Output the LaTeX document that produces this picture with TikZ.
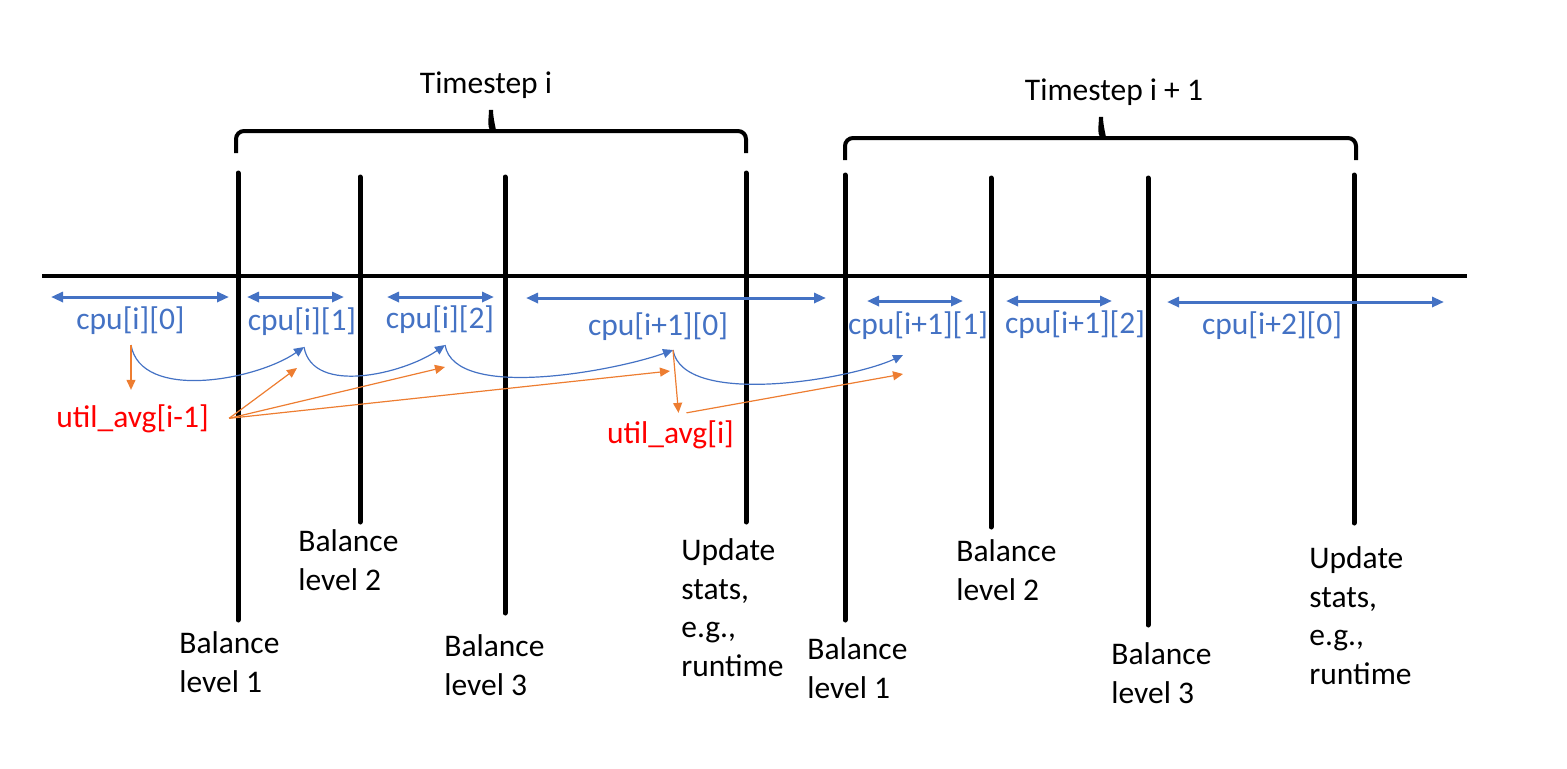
\documentclass[tikz,border=0pt]{standalone}
\usepackage{fontspec}
\setmainfont{Carlito}
\usetikzlibrary{arrows.meta}
\definecolor{cpublue}{RGB}{68,114,196}
\definecolor{avgorange}{RGB}{237,125,49}
\definecolor{avgred}{RGB}{255,0,0}

\tikzset{
  every node/.style={font=\fontsize{15.75}{19.2}\selectfont},
  cpulabel/.style={text=cpublue, inner sep=0pt, anchor=base},
  avglabel/.style={text=avgred, inner xsep=10pt, anchor=base},
  eventlabel/.style={align=left, inner sep=0pt, anchor=base west},
  titlelabel/.style={inner sep=0pt, anchor=base},
  span/.style={cpublue, line width=1.5pt, {Triangle[length=6pt,width=5pt]}-{Triangle[length=6pt,width=5pt]}},
  carry/.style={cpublue, line width=0.6pt, -{Triangle[length=5pt,width=4.5pt]}},
  feed/.style={avgorange, line width=0.6pt, -{Triangle[length=5pt,width=4.5pt]}},
  barline/.style={line width=2.5pt, line cap=round},
  axisline/.style={line width=2.2pt},
  bracepath/.style={line width=2pt}
}

\begin{document}
\begin{tikzpicture}[x=0.5pt, y=-0.5pt]
  \useasboundingbox (0,0) rectangle (1567,768);

  % timeline and balance points
  \draw[axisline] (42,276) -- (1467,276);
  \foreach \x/\t/\b in {238/173/620, 360/177/522, 505/177/613, 746/173/522,
                        845/175/620, 991/178/527, 1148/178/625, 1354/175/523}
    \draw[barline] (\x,\t) -- (\x,\b);

  % timestep braces
  \draw[bracepath] (236,153) [rounded corners=4pt] -- (236,131) -- (486,131) [sharp corners]
    to[out=0,in=-90] (491,110) to[out=-90,in=180] (496,131) [rounded corners=4pt] -- (746,131) -- (746,153);
  \draw[bracepath] (845,160) [rounded corners=4pt] -- (845,138) -- (1096,138) [sharp corners]
    to[out=0,in=-90] (1101,117) to[out=-90,in=180] (1106,138) [rounded corners=4pt] -- (1356,138) -- (1356,160);
  \node[titlelabel] (ts1) at (486,93) {Timestep i};
  \node[titlelabel] (ts2) at (1114,100) {Timestep i + 1};

  % cpu intervals
  \foreach \a/\b/\y in {51/229/297, 247/344/297, 387/494/297, 526/826/298,
                        867/963/301, 1006/1112/301, 1167/1444/302}
    \draw[span] (\a,\y) -- (\b,\y);
  \node[cpulabel] (c00) at (130.5,329) {cpu[i][0]};
  \node[cpulabel] (c01) at (302,330) {cpu[i][1]};
  \node[cpulabel] (c02) at (440,328) {cpu[i][2]};
  \node[cpulabel] (c10) at (658,335) {cpu[i+1][0]};
  \node[cpulabel] (c11) at (918,334) {cpu[i+1][1]};
  \node[cpulabel] (c12) at (1075,333) {cpu[i+1][2]};
  \node[cpulabel] (c20) at (1272,334) {cpu[i+2][0]};

  % averages
  \node[avglabel, inner ysep=7pt] (ua) at (132.5,427) {util\_avg[i-1]};
  \node[avglabel, inner ysep=3.5pt] (ub) at (670.5,443) {util\_avg[i]};

  % event labels (placed at the baseline of the last line)
  \node[eventlabel] (bl1) at (179,692) {Balance\\level 1};
  \node[eventlabel] (bl2) at (298,590) {Balance\\level 2};
  \node[eventlabel] (bl3) at (444,695) {Balance\\level 3};
  \node[eventlabel] (up1) at (681,676) {Update\\stats,\\e.g.,\\runtime};
  \node[eventlabel] (bl4) at (807,698) {Balance\\level 1};
  \node[eventlabel] (bl5) at (956,600) {Balance\\level 2};
  \node[eventlabel] (bl6) at (1111,703) {Balance\\level 3};
  \node[eventlabel] (up2) at (1309,684) {Update\\stats,\\e.g.,\\runtime};

  % hand-off points
  \coordinate (p0) at (131,345);
  \coordinate (p1) at (304,347);
  \coordinate (p2) at (445,345);
  \coordinate (p3) at (673,350);
  \coordinate (p4) at (903,355);
  \coordinate (q1) at (297,368);
  \coordinate (q2) at (445,367);
  \coordinate (q3) at (670,371);
  \coordinate (q4) at (903,374);

  \draw[carry] (p0) to[out=-80,in=-145,looseness=0.85] (p1);
  \draw[carry] (p1) to[out=-80,in=-145,looseness=0.9] (p2);
  \draw[carry] (p2) to[out=-80,in=-160,looseness=0.65] (p3);
  \draw[carry] (p3) to[out=-80,in=-155,looseness=0.65] (p4);

  \draw[feed] (p0) -- (ua.north -| p0);
  \draw[feed] (ua.east) -- (q1);
  \draw[feed] (ua.east) -- (q2);
  \draw[feed] (ua.east) -- (q3);
  \draw[feed] (p3) -- ([xshift=4pt]ub.north);
  \draw[feed] ([xshift=8pt]ub.north) -- (q4);
\end{tikzpicture}
\end{document}
